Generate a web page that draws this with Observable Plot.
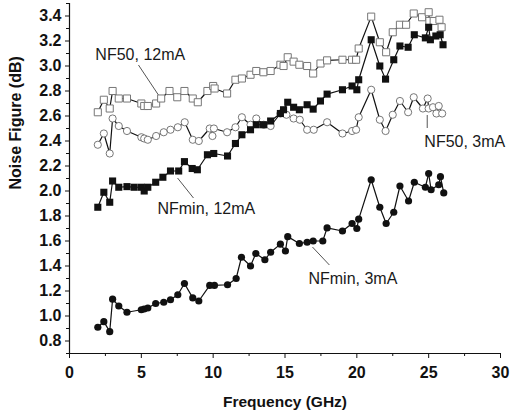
<!DOCTYPE html>
<html>
<head>
<meta charset="utf-8">
<script src="https://cdn.jsdelivr.net/npm/d3@7"></script>
<script src="https://cdn.jsdelivr.net/npm/@observablehq/plot@0.6"></script>
<style>
  html, body { margin: 0; padding: 0; background: #fff; }
  #chart { width: 510px; height: 419px; }
</style>
</head>
<body>
<div id="chart"></div>
<script>
// Frequency (GHz), Noise figure (dB)
const nf50_12mA = [[1.97,2.63],[2.39,2.73],[2.8,2.66],[3.0,2.80],[3.43,2.74],[4.0,2.74],[5.0,2.70],[5.2,2.68],[5.45,2.68],[6.03,2.70],[6.38,2.74],[6.96,2.80],[7.5,2.75],[8.0,2.80],[8.58,2.74],[8.93,2.71],[9.6,2.80],[10.0,2.84],[10.1,2.82],[10.97,2.78],[11.55,2.89],[12.0,2.90],[12.6,2.93],[13.0,2.96],[13.5,2.95],[14.0,2.96],[14.68,3.01],[14.9,3.0],[15.19,3.07],[15.6,3.035],[16.0,3.01],[16.54,3.0],[16.96,2.94],[17.47,3.02],[17.93,3.045],[19.0,3.05],[19.67,3.05],[19.95,3.05],[20.13,3.14],[21.0,3.395],[21.6,3.19],[22.04,3.11],[22.5,3.27],[23.0,3.33],[23.43,3.33],[23.96,3.42],[24.54,3.39],[25.0,3.43],[25.05,3.36],[25.35,3.36],[25.75,3.37],[25.9,3.31]];
const nf50_3mA = [[1.97,2.37],[2.39,2.46],[2.8,2.30],[3.0,2.58],[3.43,2.52],[4.0,2.48],[5.0,2.43],[5.2,2.42],[5.45,2.41],[6.03,2.44],[6.56,2.47],[7.03,2.49],[7.54,2.51],[8.02,2.55],[8.58,2.41],[9.0,2.40],[9.76,2.50],[9.95,2.44],[10.05,2.50],[10.97,2.47],[11.55,2.51],[12.0,2.59],[12.6,2.53],[13.0,2.58],[13.52,2.53],[14.0,2.52],[14.68,2.62],[15.1,2.61],[15.6,2.58],[16.03,2.57],[16.54,2.49],[17.0,2.49],[17.93,2.55],[19.0,2.46],[19.67,2.48],[19.95,2.49],[20.13,2.59],[21.0,2.81],[21.6,2.57],[22.0,2.48],[22.5,2.61],[23.0,2.72],[23.57,2.63],[23.96,2.75],[24.6,2.66],[24.93,2.74],[25.0,2.66],[25.3,2.67],[25.54,2.62],[25.7,2.68],[25.94,2.62]];
const nfmin_12mA = [[1.97,1.87],[2.39,1.99],[2.8,1.91],[3.0,2.08],[3.43,2.03],[4.0,2.035],[4.5,2.03],[5.0,2.03],[5.2,2.0],[5.45,2.03],[6.0,2.07],[6.5,2.11],[7.03,2.16],[7.6,2.16],[8.0,2.235],[8.54,2.18],[8.9,2.17],[9.6,2.29],[10.04,2.30],[11.0,2.28],[11.55,2.38],[12.0,2.45],[12.6,2.49],[13.0,2.53],[13.5,2.53],[14.0,2.56],[14.68,2.62],[14.9,2.65],[15.19,2.71],[15.6,2.67],[16.0,2.65],[16.54,2.69],[16.96,2.655],[17.47,2.72],[17.93,2.775],[19.0,2.81],[19.67,2.84],[20.0,2.81],[20.13,2.89],[21.0,3.21],[21.6,3.0],[22.0,2.895],[22.57,3.05],[23.0,3.16],[23.57,3.15],[24.0,3.25],[24.77,3.225],[25.0,3.31],[25.12,3.21],[25.5,3.24],[25.8,3.25],[26.0,3.17]];
const nfmin_3mA = [[1.97,0.91],[2.39,0.955],[2.8,0.875],[3.0,1.135],[3.43,1.08],[4.0,1.03],[5.0,1.05],[5.2,1.056],[5.45,1.064],[6.0,1.10],[6.56,1.11],[7.03,1.13],[7.54,1.17],[8.0,1.26],[8.58,1.145],[9.0,1.12],[9.76,1.245],[10.09,1.245],[11.0,1.25],[11.6,1.30],[11.97,1.47],[12.6,1.40],[12.97,1.50],[13.6,1.45],[14.0,1.51],[14.68,1.575],[15.03,1.52],[15.19,1.635],[16.0,1.58],[16.54,1.59],[16.96,1.60],[17.63,1.60],[17.93,1.705],[19.0,1.68],[19.67,1.74],[20.0,1.70],[20.13,1.775],[21.0,2.09],[21.6,1.87],[22.04,1.74],[22.57,1.83],[23.0,2.04],[23.6,1.92],[24.0,2.07],[24.77,2.03],[25.0,2.14],[25.17,2.01],[25.7,2.05],[25.82,2.115],[26.05,1.985]];

const xMajorTicks = [0, 5, 10, 15, 20, 25, 30];
const xMinorTicks = [2.5, 7.5, 12.5, 17.5, 22.5, 27.5];
const yMajorTicks = [0.8, 1.0, 1.2, 1.4, 1.6, 1.8, 2.0, 2.2, 2.4, 2.6, 2.8, 3.0, 3.2, 3.4];
const yMinorTicks = [0.7, 0.9, 1.1, 1.3, 1.5, 1.7, 1.9, 2.1, 2.3, 2.5, 2.7, 2.9, 3.1, 3.3, 3.5];

// annotation labels: [text, x, y] and leader lines [x1, y1, x2, y2]
const labels = [["NF50, 12mA", 1.8, 3.09], ["NF50, 3mA", 24.7, 2.39], ["NFmin, 12mA", 6.12, 1.856], ["NFmin, 3mA", 16.63, 1.296]];
const leaders = [[4.8, 3.008, 6.33, 2.744], [24.9, 2.608, 24.9, 2.504], [7.52, 2.104, 8.63, 1.944], [16.91, 1.552, 18.09, 1.408]];

const F = "'Liberation Sans', Arial, Helvetica, sans-serif";
const pt = d => ({x: d[0], y: d[1]});

const chart = Plot.plot({
  width: 510,
  height: 419,
  marginLeft: 69,
  marginRight: 10,
  marginTop: 3,
  marginBottom: 66,
  style: {fontFamily: F, background: "#fff", color: "#111"},
  x: {domain: [0, 30]},
  y: {domain: [0.7, 3.5]},
  marks: [
    Plot.ruleX([0], {stroke: "#111", strokeWidth: 1.2}),
    Plot.ruleY([0.7], {stroke: "#111", strokeWidth: 1.2}),
    Plot.axisX({ticks: xMinorTicks, tickSize: 3, tickFormat: () => "", label: null, stroke: "#111"}),
    Plot.axisX({ticks: xMajorTicks, tickSize: 5, tickPadding: 8, fontSize: 16, fontWeight: "bold", label: null, stroke: "#111", fill: "#111"}),
    Plot.axisY({ticks: yMinorTicks, tickSize: 3, tickFormat: () => "", label: null, stroke: "#111"}),
    Plot.axisY({ticks: yMajorTicks, tickSize: 4, tickPadding: 4, tickFormat: d3.format(".1f"), fontSize: 16, fontWeight: "bold", label: null, stroke: "#111", fill: "#111"}),
    Plot.text(["Frequency (GHz)"], {frameAnchor: "bottom", dy: 53, fontSize: 15.5, fontWeight: "bold", fill: "#111"}),
    Plot.text(["Noise Figure (dB)"], {frameAnchor: "left", dx: -54, dy: 11, rotate: -90, fontSize: 16, fontWeight: "bold", fill: "#111"}),
    Plot.link(leaders, {x1: d => d[0], y1: d => d[1], x2: d => d[2], y2: d => d[3], stroke: "#555", strokeWidth: 1}),
    Plot.text(labels, {x: d => d[1], y: d => d[2], text: d => d[0], textAnchor: "start", fontSize: 16, fill: "#1a1a1a"}),
    Plot.line(nf50_12mA.map(pt), {x: "x", y: "y", stroke: "#111", strokeWidth: 1.2}),
    Plot.line(nf50_3mA.map(pt), {x: "x", y: "y", stroke: "#111", strokeWidth: 1.2}),
    Plot.line(nfmin_12mA.map(pt), {x: "x", y: "y", stroke: "#111", strokeWidth: 1.2}),
    Plot.line(nfmin_3mA.map(pt), {x: "x", y: "y", stroke: "#111", strokeWidth: 1.2}),
    Plot.dot(nf50_12mA.map(pt), {x: "x", y: "y", symbol: "square", r: 4, fill: "#fff", stroke: "#777", strokeWidth: 1}),
    Plot.dot(nf50_3mA.map(pt), {x: "x", y: "y", symbol: "circle", r: 3.6, fill: "#fff", stroke: "#777", strokeWidth: 1}),
    Plot.dot(nfmin_12mA.map(pt), {x: "x", y: "y", symbol: "square", r: 4, fill: "#111", stroke: "none"}),
    Plot.dot(nfmin_3mA.map(pt), {x: "x", y: "y", symbol: "circle", r: 3.6, fill: "#111", stroke: "none"})
  ]
});
document.getElementById("chart").appendChild(chart);
</script>
</body>
</html>
